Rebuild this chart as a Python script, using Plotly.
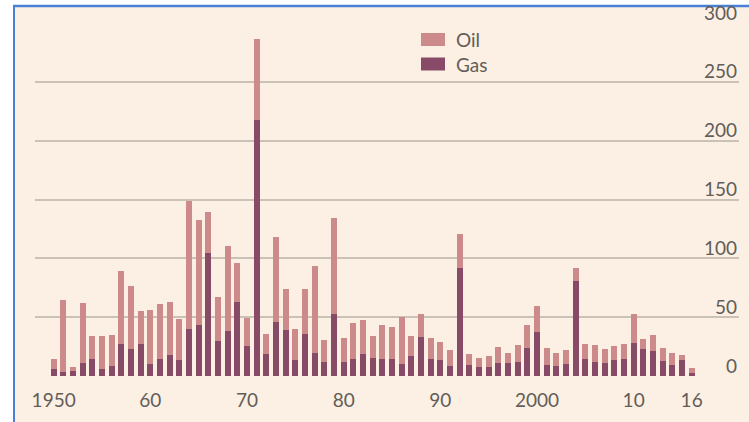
import plotly.graph_objects as go

years = list(range(1950, 2017))

gas = [6.0, 3.7, 4.0, 11.0, 14.2, 5.7, 8.2, 27.2, 23.0, 26.9,
       9.9, 14.2, 17.6, 13.3, 40.2, 43.6, 104.8, 29.7, 38.2, 62.9,
       25.8, 217.6, 18.7, 45.9, 38.8, 13.3, 36.0, 19.8, 11.6, 52.7,
       12.2, 14.4, 18.4, 15.0, 14.4, 14.4, 9.9, 16.7, 33.4, 14.4,
       13.3, 8.5, 91.5, 9.3, 7.4, 7.9, 10.8, 11.3, 12.0, 23.8,
       37.4, 9.1, 8.2, 10.5, 80.7, 14.2, 11.6, 11.3, 13.3, 14.4,
       28.0, 23.0, 21.0, 12.7, 9.6, 13.3, 2.8]

oil = [8.4, 60.9, 3.4, 51.3, 19.5, 28.6, 26.4, 62.3, 53.5, 28.1,
       45.9, 47.3, 45.0, 35.4, 108.5, 89.0, 34.3, 37.2, 72.0, 33.4,
       23.8, 68.5, 17.0, 72.0, 35.1, 26.4, 37.9, 73.7, 19.0, 81.3,
       20.1, 30.4, 29.5, 18.7, 28.9, 27.5, 40.0, 17.6, 19.6, 17.9,
       15.9, 13.3, 29.2, 9.7, 8.2, 9.4, 13.8, 8.5, 14.0, 19.7,
       22.4, 15.0, 11.1, 11.3, 11.1, 13.0, 15.0, 11.6, 12.5, 12.8,
       24.7, 8.2, 14.1, 11.4, 9.7, 4.8, 3.7]

x_tickvals = [1950, 1960, 1970, 1980, 1990, 2000, 2010, 2016]
x_ticktext = ["1950", "60", "70", "80", "90", "2000", "10", "16"]
y_tickvals = [0, 50, 100, 150, 200, 250, 300]

OIL_COLOR = "#cd8a8b"
GAS_COLOR = "#874b68"
BG = "#fbf0e3"
TEXT = "#635d59"
FONT = "Lato"
FRAME = "#4a7fd6"

# plot area in px: left 35, right 739, top 23, bottom 376
W, H = 749, 422
L, R, T, B = 35, 10, 23, 46
PW, PH = W - L - R, H - T - B
FRAME_TOP = 6   # px row of the blue top edge
FRAME_LEFT = 14


def px_x(px):
    return (px - L) / PW


def px_y(py):
    return (H - B - py) / PH


fig = go.Figure()
fig.add_trace(go.Bar(x=years, y=gas, name="Gas", marker_color=GAS_COLOR,
                     marker_line_width=0))
fig.add_trace(go.Bar(x=years, y=oil, name="Oil", marker_color=OIL_COLOR,
                     marker_line_width=0))

shapes = [
    # cream panel of the screenshot
    dict(type="rect", xref="paper", yref="paper", layer="below",
         x0=px_x(FRAME_LEFT), x1=px_x(770), y0=px_y(440), y1=px_y(FRAME_TOP),
         fillcolor=BG, line_width=0),
    # white strip above the frame (crops the top of the "300" label)
    dict(type="rect", xref="paper", yref="paper", layer="above",
         x0=px_x(0), x1=px_x(W), y0=px_y(FRAME_TOP), y1=px_y(0),
         fillcolor="white", line_width=0),
    # blue frame, top and left edges
    dict(type="line", xref="paper", yref="paper", layer="above",
         x0=px_x(FRAME_LEFT - 1), x1=px_x(W), y0=px_y(FRAME_TOP), y1=px_y(FRAME_TOP),
         line=dict(color=FRAME, width=2.5)),
    dict(type="line", xref="paper", yref="paper", layer="above",
         x0=px_x(FRAME_LEFT), x1=px_x(FRAME_LEFT), y0=px_y(FRAME_TOP - 1), y1=px_y(H),
         line=dict(color=FRAME, width=2)),
]
annotations = []
# hand-made legend (wide swatches like the original)
for name, color, yc in [("Oil", OIL_COLOR, 39.5), ("Gas", GAS_COLOR, 64)]:
    shapes.append(dict(type="rect", xref="paper", yref="paper",
                       x0=px_x(421), x1=px_x(445), y0=px_y(yc + 6.5), y1=px_y(yc - 6.5),
                       fillcolor=color, line_width=0))
    annotations.append(dict(text=name, xref="paper", yref="paper",
                            x=px_x(454), y=px_y(yc), xanchor="left", yanchor="middle",
                            showarrow=False, font=dict(family=FONT, size=19, color=TEXT)))

# y labels sit above their gridlines, flush right
for v in y_tickvals:
    annotations.append(dict(text=str(v), xref="paper", yref="y", x=1, y=v,
                            xanchor="right", yanchor="middle", yshift=11,
                            showarrow=False, font=dict(family=FONT, size=19, color=TEXT)))

fig.update_layout(
    width=W, height=H,
    margin=dict(l=L, r=R, t=T, b=B),
    barmode="stack", bargap=0.38,
    paper_bgcolor="white", plot_bgcolor="rgba(0,0,0,0)",
    showlegend=False,
    font=dict(family=FONT, size=19, color=TEXT),
    shapes=shapes, annotations=annotations,
    xaxis=dict(range=[1948.07, 2020.9], tickvals=x_tickvals, ticktext=x_ticktext,
               showgrid=False, zeroline=False, showline=False, ticks="",
               ticklabelstandoff=11, automargin=False),
    yaxis=dict(range=[0, 300], tickvals=y_tickvals, side="right",
               showticklabels=False, automargin=False,
               showgrid=True, gridcolor="#cac2b7", gridwidth=2,
               zeroline=False, showline=False, ticks=""),
)

# drop the page's default body margin so the figure fills the window
page_fix = ("document.body.style.margin='0';"
            "document.documentElement.style.overflow='hidden';"
            "window.scrollTo(0, 0);")
fig.write_html("out.html", config={"displayModeBar": False}, post_script=page_fix)
